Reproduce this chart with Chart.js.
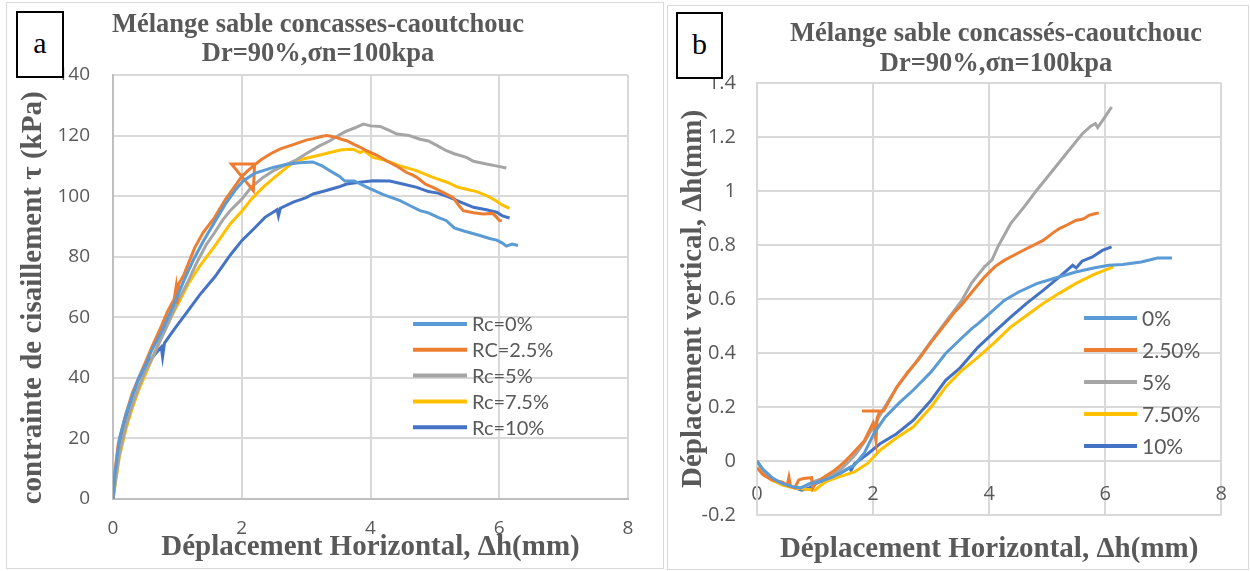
<!DOCTYPE html>
<html>
<head>
<meta charset="utf-8">
<script src="https://cdn.jsdelivr.net/npm/chart.js@4.4.1/dist/chart.umd.min.js"></script>
<style>
  body { margin: 0; background: #fff; width: 1250px; height: 571px; overflow: hidden; position: relative; }
  .panel { position: absolute; border: 1px solid #d9d9d9; box-sizing: border-box; }
  .panel canvas { display: block; }
  .tag { position: absolute; border: 2px solid #000; background: #fff; box-sizing: border-box;
         font-family: 'Liberation Serif', serif; font-size: 30px; text-align: center; color: #000; }
</style>
</head>
<body>
<div class="panel" style="left:6px; top:2px; width:658px; height:567px;">
  <canvas id="chartA" width="656" height="565"></canvas>
</div>
<div class="panel" style="left:667px; top:5px; width:582px; height:565px;">
  <canvas id="chartB" width="580" height="563"></canvas>
</div>
<div class="tag" style="left:16px; top:11px; width:48px; height:67px; line-height:60px;">a</div>
<div class="tag" style="left:676px; top:12px; width:47px; height:67px; line-height:60px;">b</div>

<script>
// Couleurs Excel par défaut
var colors = ['#5B9BD5', '#ED7D31', '#A5A5A5', '#FFC000', '#4472C4'];

// ---- (a) contrainte de cisaillement vs déplacement horizontal ----
var labelsA = ['Rc=0%', 'RC=2.5%', 'Rc=5%', 'Rc=7.5%', 'Rc=10%'];
var ticksAx = [0, 2, 4, 6, 8];
var ticksAy = [0, 20, 40, 60, 80, 100, 120, 140];

var a_rc0 = [[0,0],[0.03,8],[0.1,20],[0.2,28],[0.3,34],[0.4,40],[0.5,44],[0.6,49],[0.75,55],[0.9,62],[1.0,67],
  [1.1,72],[1.25,79],[1.4,85],[1.58,91.5],[1.75,97.5],[1.9,102],[2.02,105],[2.2,107.5],[2.49,109.5],[2.7,110.5],
  [2.9,111],[3.1,111.3],[3.25,110],[3.4,108],[3.52,106.5],[3.6,105],[3.75,105],[3.94,103],[4.2,100.5],[4.46,98.5],
  [4.6,97],[4.77,95.2],[4.9,94.5],[5.05,93],[5.18,91.9],[5.3,89.5],[5.45,88.5],[5.7,87],[5.85,86],[5.96,85.5],
  [6.05,84.5],[6.11,83.5],[6.2,84.2],[6.29,83.7]];
var a_rc25 = [[0,0],[0.03,9],[0.08,18],[0.2,28],[0.3,35],[0.4,40],[0.5,45],[0.6,50],[0.75,57],[0.85,62],[0.95,66],
  [0.98,70],[1.0,64.5],[1.02,71],[1.1,74],[1.27,83],[1.4,88],[1.58,93],[1.75,99],[1.9,103.5],[2.0,106.5],[1.84,110.6],
  [2.2,110.6],[2.18,101.8],[2.0,106.5],[2.1,108.5],[2.23,110.8],[2.3,112],[2.45,114],[2.59,115.5],[2.8,117],[3.0,118.5],
  [3.11,119],[3.25,119.8],[3.32,120],[3.45,119.5],[3.55,118.8],[3.63,118.3],[3.75,117],[3.85,116],[3.94,115],[4.1,113.5],
  [4.25,111.7],[4.4,110],[4.56,107.8],[4.65,107],[4.72,106.2],[4.85,104],[4.97,102.9],[5.1,101.5],[5.28,99.6],[5.37,97],
  [5.44,95.2],[5.6,94.5],[5.75,94.1],[5.9,94.3],[5.96,93],[6.0,92],[6.04,91.9]];
var a_rc5 = [[0,0],[0.05,8],[0.1,15],[0.2,24],[0.3,31],[0.4,37],[0.5,42],[0.6,46],[0.75,53],[0.9,60],[1.0,65],
  [1.17,72],[1.3,78],[1.45,84],[1.58,88],[1.7,92],[1.82,95.2],[2.0,99],[2.15,103],[2.33,106.2],[2.5,108.5],[2.7,110.5],
  [2.85,112],[3.0,114],[3.2,116.5],[3.37,118.3],[3.5,120],[3.6,121.2],[3.75,122.5],[3.89,123.8],[4.0,123.2],[4.15,123],
  [4.3,121.6],[4.41,120.5],[4.6,120],[4.77,118.8],[4.9,118.2],[5.05,116.5],[5.18,115],[5.3,114],[5.49,112.8],[5.6,111.5],
  [5.8,110.6],[5.95,110],[6.11,109.3]];
var a_rc75 = [[0,0],[0.05,7],[0.1,14],[0.2,23],[0.3,30],[0.4,36],[0.5,41],[0.6,46],[0.75,53.5],[0.9,60],[1.0,64],
  [1.17,71],[1.35,77],[1.58,83.5],[1.82,90.8],[2.0,95],[2.15,99],[2.33,102.9],[2.5,106],[2.7,109.5],[2.85,111.7],
  [3.0,112.5],[3.2,113.5],[3.37,114.4],[3.55,115.3],[3.73,115.5],[3.84,114.4],[3.9,115],[4.04,112.8],[4.2,112],
  [4.46,110],[4.7,108.5],[4.97,106.2],[5.2,104.5],[5.35,103],[5.49,102.3],[5.65,101.5],[5.8,100.2],[5.95,98.5],
  [6.05,97],[6.16,96]];
var a_rc10 = [[0,0],[0.04,9],[0.11,19.4],[0.2,27],[0.3,34],[0.39,39.2],[0.5,43.5],[0.6,46.5],[0.75,50.2],[0.77,47],
  [0.8,51.5],[0.95,56],[1.17,62.3],[1.35,67.5],[1.58,73.3],[1.82,80.5],[2.0,85.3],[2.2,89.5],[2.36,93],[2.55,95.5],
  [2.57,93.5],[2.6,96],[2.8,98],[3.0,99.5],[3.11,100.7],[3.3,101.8],[3.5,103],[3.63,104],[3.8,104.5],[4.04,105.1],
  [4.3,105],[4.5,104],[4.72,102.9],[4.9,101.5],[5.05,101],[5.23,99.6],[5.4,98],[5.6,96.3],[5.8,95.5],[5.96,94.7],
  [6.05,93.5],[6.16,92.8]];

// ---- (b) déplacement vertical vs déplacement horizontal ----
var labelsB = ['0%', '2.50%', '5%', '7.50%', '10%'];
var ticksBx = [0, 2, 4, 6, 8];
var ticksBy = [-0.2, 0, 0.2, 0.4, 0.6, 0.8, 1, 1.2, 1.4];

var b_rc0 = [[0,0],[0.1,-0.03],[0.25,-0.06],[0.4,-0.08],[0.6,-0.095],[0.75,-0.1],[0.9,-0.085],[1.1,-0.075],[1.3,-0.06],
  [1.5,-0.035],[1.68,-0.015],[1.85,0.03],[2.01,0.1],[2.2,0.16],[2.45,0.215],[2.69,0.262],[3.0,0.33],[3.25,0.398],
  [3.5,0.45],[3.7,0.49],[3.81,0.509],[4.0,0.545],[4.26,0.595],[4.5,0.625],[4.82,0.657],[5.1,0.675],[5.49,0.7],
  [5.8,0.715],[6.06,0.725],[6.3,0.728],[6.62,0.737],[6.9,0.752],[7.15,0.752]];
var b_rc25 = [[0,-0.025],[0.1,-0.05],[0.25,-0.07],[0.44,-0.078],[0.52,-0.09],[0.55,-0.06],[0.58,-0.095],[0.65,-0.1],
  [0.72,-0.07],[0.8,-0.065],[0.94,-0.062],[0.96,-0.1],[1.0,-0.085],[1.15,-0.06],[1.34,-0.034],[1.5,-0.005],[1.68,0.035],
  [1.85,0.075],[2.0,0.14],[2.05,0.075],[2.07,0.16],[2.12,0.185],[1.81,0.185],[2.18,0.185],[2.22,0.2],[2.41,0.274],
  [2.6,0.33],[2.8,0.38],[3.0,0.44],[3.25,0.509],[3.4,0.55],[3.53,0.58],[3.7,0.625],[3.92,0.681],[4.1,0.72],[4.26,0.743],
  [4.45,0.765],[4.65,0.787],[4.93,0.817],[5.1,0.845],[5.21,0.861],[5.35,0.875],[5.49,0.891],[5.6,0.895],[5.65,0.9],
  [5.72,0.91],[5.8,0.915],[5.89,0.919]];
var b_rc5 = [[0,0],[0.1,-0.035],[0.25,-0.065],[0.45,-0.085],[0.6,-0.095],[0.75,-0.1],[0.85,-0.09],[1.0,-0.075],
  [1.2,-0.06],[1.34,-0.046],[1.5,-0.02],[1.7,0.025],[1.85,0.07],[2.0,0.125],[2.2,0.2],[2.41,0.274],[2.7,0.355],
  [2.97,0.435],[3.25,0.515],[3.53,0.595],[3.7,0.66],[3.92,0.719],[4.05,0.745],[4.15,0.793],[4.37,0.879],[4.6,0.94],
  [4.82,1.003],[5.05,1.064],[5.33,1.139],[5.61,1.213],[5.75,1.24],[5.83,1.25],[5.87,1.235],[5.95,1.26],[6.11,1.311]];
var b_rc75 = [[0,0],[0.1,-0.035],[0.25,-0.07],[0.45,-0.09],[0.65,-0.1],[0.85,-0.105],[1.0,-0.108],[1.1,-0.09],
  [1.2,-0.075],[1.4,-0.06],[1.68,-0.04],[1.9,-0.01],[2.12,0.04],[2.4,0.085],[2.69,0.126],[3.0,0.2],[3.25,0.274],
  [3.5,0.33],[3.81,0.385],[4.1,0.44],[4.37,0.496],[4.65,0.54],[4.93,0.583],[5.2,0.62],[5.49,0.657],[5.8,0.69],[6.14,0.719]];
var b_rc10 = [[0,0],[0.1,-0.035],[0.25,-0.065],[0.45,-0.085],[0.6,-0.095],[0.77,-0.108],[0.9,-0.1],[1.05,-0.08],
  [1.2,-0.07],[1.4,-0.05],[1.6,-0.025],[1.62,-0.035],[1.68,-0.01],[1.9,0.025],[2.12,0.064],[2.4,0.1],[2.69,0.15],
  [3.0,0.225],[3.25,0.299],[3.5,0.345],[3.81,0.422],[4.1,0.48],[4.37,0.533],[4.65,0.585],[4.93,0.632],[5.2,0.68],
  [5.44,0.725],[5.5,0.715],[5.6,0.74],[5.78,0.756],[5.95,0.78],[6.11,0.793]];

var seriesA = [a_rc0, a_rc25, a_rc5, a_rc75, a_rc10];
var seriesB = [b_rc0, b_rc25, b_rc5, b_rc75, b_rc10];

var grey = '#595959';
var gridCol = '#d9d9d9';
var serif = "'Liberation Serif', 'Times New Roman', serif";

// titre sur deux lignes, dessiné à une position fixe
var twoLineTitle = {
    id: 'twoLineTitle',
    afterDraw: function (chart, args, o) {
        var ctx = chart.ctx;
        ctx.save();
        ctx.font = 'bold 26.5px ' + serif;
        ctx.fillStyle = grey;
        ctx.textAlign = 'center';
        ctx.textBaseline = 'alphabetic';
        o.lines.forEach(function (t, i) { ctx.fillText(t, o.x, o.y[i]); });
        ctx.restore();
    }
};

// légende à l'intérieur du graphique
var innerLegend = {
    id: 'innerLegend',
    afterDatasetsDraw: function (chart, args, o) {
        var ctx = chart.ctx;
        ctx.save();
        ctx.font = o.fontSize + 'px Lato';
        ctx.textBaseline = 'middle';
        ctx.textAlign = 'left';
        chart.data.datasets.forEach(function (ds, i) {
            var y = o.y + i * o.gap;
            ctx.strokeStyle = ds.borderColor;
            ctx.lineWidth = 4;
            ctx.beginPath();
            ctx.moveTo(o.x, y);
            ctx.lineTo(o.x + o.len, y);
            ctx.stroke();
            ctx.fillStyle = grey;
            ctx.fillText(ds.label, o.x + o.len + 5, y + 1);
        });
        ctx.restore();
    }
};

function makeDatasets(series, labels) {
    return series.map(function (s, i) {
        return {
            label: labels[i],
            data: s.map(function (p) { return {x: p[0], y: p[1]}; }),
            borderColor: colors[i],
            backgroundColor: colors[i],
            borderWidth: 3,
            pointRadius: 0,
            showLine: true,
            tension: 0
        };
    });
}

function fmt(v) { return String(Math.round(v * 10) / 10); }

function makeChart(id, cfg) {
    return new Chart(document.getElementById(id), {
        type: 'scatter',
        data: { datasets: makeDatasets(cfg.series, cfg.labels) },
        plugins: [twoLineTitle, innerLegend],
        options: {
            responsive: false,
            animation: false,
            devicePixelRatio: 1,
            layout: { padding: cfg.padding },
            plugins: {
                legend: { display: false },
                tooltip: { enabled: false },
                twoLineTitle: cfg.title,
                innerLegend: cfg.legend
            },
            scales: {
                x: {
                    type: 'linear',
                    position: { y: 0 },
                    min: 0, max: 8,
                    afterBuildTicks: function (s) { s.ticks = cfg.ticksX.map(function (v) { return {value: v}; }); },
                    afterFit: function (s) { s.height = cfg.xHeight; },
                    grid: { color: gridCol, lineWidth: 2, drawTicks: false },
                    border: { color: cfg.xBorder, width: 2 },
                    ticks: { padding: cfg.xPad, color: grey, font: { family: "'Open Sans'", size: cfg.tickSize }, callback: fmt },
                    title: { display: true, text: 'Déplacement Horizontal, Δh(mm)', color: grey,
                             font: { family: serif, size: 29, weight: 'bold' }, padding: 0 }
                },
                y: {
                    type: 'linear',
                    min: cfg.ticksY[0], max: cfg.ticksY[cfg.ticksY.length - 1],
                    afterBuildTicks: function (s) { s.ticks = cfg.ticksY.map(function (v) { return {value: v}; }); },
                    afterFit: function (s) { s.width = cfg.yWidth; },
                    grid: { color: gridCol, lineWidth: 2, drawTicks: false },
                    border: { color: cfg.yBorder, width: 2 },
                    ticks: { padding: cfg.yPad, color: grey, font: { family: "'Open Sans'", size: cfg.tickSize }, callback: fmt },
                    title: { display: true, text: cfg.yTitle, color: grey,
                             font: { family: serif, size: 29, weight: 'bold' }, padding: { top: cfg.yTitlePad } }
                }
            }
        }
    });
}

makeChart('chartA', {
    series: seriesA, labels: labelsA, ticksX: ticksAx, ticksY: ticksAy,
    padding: { top: 72, right: 35, bottom: 69, left: 0 },
    xHeight: 66, yWidth: 106, xPad: 18, yPad: 23, yTitlePad: 9, tickSize: 19,
    xBorder: '#bfbfbf', yBorder: '#bfbfbf',
    yTitle: 'contrainte de cisaillement τ (kPa)   ',
    title: { lines: ['Mélange sable concasses-caoutchouc', 'Dr=90%,σn=100kpa'], x: 311, y: [29, 58] },
    legend: { x: 406, y: 321, gap: 25.8, len: 54, fontSize: 20 }
});

makeChart('chartB', {
    series: seriesB, labels: labelsB, ticksX: ticksBx, ticksY: ticksBy,
    padding: { top: 77, right: 16, bottom: 54, left: 0 },
    xHeight: 106, yWidth: 89, xPad: 21, yPad: 21, yTitlePad: 8, tickSize: 20,
    xBorder: gridCol, yBorder: gridCol,
    yTitle: 'Déplacement vertical, Δh(mm)',
    title: { lines: ['Mélange sable concassés-caoutchouc', 'Dr=90%,σn=100kpa'], x: 328, y: [35, 65] },
    legend: { x: 416, y: 312, gap: 32, len: 53, fontSize: 21 }
});
</script>
</body>
</html>
